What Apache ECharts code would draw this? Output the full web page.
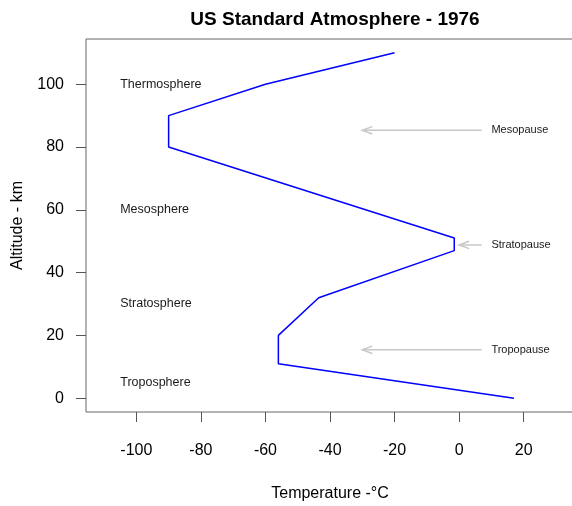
<!DOCTYPE html>
<html>
<head>
<meta charset="utf-8">
<script src="https://cdn.jsdelivr.net/npm/echarts@6/dist/echarts.min.js"></script>
<style>html,body{margin:0;padding:0;background:#fff}#c{width:572px;height:506px}</style>
</head>
<body>
<div id="c"></div>
<script>
// Data
var altitudeKm   = [0, 11, 20, 32, 47, 51, 80, 90, 100, 110];
var temperatureC = [17, -56, -56, -43.5, -1.5, -1.5, -90, -90, -60, -20];

var xTicks = [-100, -80, -60, -40, -20, 0, 20];
var yTicks = [0, 20, 40, 60, 80, 100];

var layerNames = ['Thermosphere', 'Mesosphere', 'Stratosphere', 'Troposphere'];
var layerX     = [-105, -105, -105, -105];
var layerY     = [100, 60, 30, 5];

var pauseNames  = ['Mesopause', 'Stratopause', 'Tropopause'];
var arrowTipX   = [-30, 0, -30];
var arrowTailX  = [7, 7, 7];
var pauseY      = [85.3, 48.8, 15.4];
var pauseLabelX = [10, 10, 10];

var lineData = altitudeKm.map(function (a, i) { return [temperatureC[i], a]; });
var layerData = layerNames.map(function (n, i) { return [layerX[i], layerY[i], n]; });
var arrowData = pauseNames.map(function (n, i) { return [arrowTipX[i], arrowTailX[i], pauseY[i]]; });
var pauseData = pauseNames.map(function (n, i) { return [pauseLabelX[i], pauseY[i], n]; });

var font = 'Liberation Sans, Arial, sans-serif';
var chart = echarts.init(document.getElementById('c'), null, {renderer: 'canvas'});

function textItem(size) {
  return function (params, api) {
    var p = api.coord([api.value(0), api.value(1)]);
    return {
      type: 'text',
      x: p[0], y: p[1],
      style: {
        text: api.value(2),
        fill: '#1a1a1a',
        font: size + 'px ' + font,
        align: 'left',
        verticalAlign: 'middle'
      }
    };
  };
}

chart.setOption({
  animation: false,
  backgroundColor: '#fff',
  title: {
    text: 'US Standard Atmosphere - 1976',
    left: 330, top: 5, textAlign: 'center',
    textStyle: {fontFamily: font, fontSize: 19, fontWeight: 'bold', color: '#000'}
  },
  grid: {
    left: 86, top: 39, width: 488, height: 373,
    show: true, borderColor: '#666', borderWidth: 1, backgroundColor: 'transparent',
    containLabel: false, outerBoundsMode: 'none'
  },
  xAxis: {
    type: 'value', min: -115.6, max: 35.6, position: 'bottom',
    name: 'Temperature -°C', nameLocation: 'middle', nameGap: 74,
    nameTextStyle: {fontFamily: font, fontSize: 16, color: '#000'},
    axisLine: {show: false, onZero: false},
    axisTick: {show: true, inside: false, length: 10, customValues: xTicks, lineStyle: {color: '#555', width: 1}},
    axisLabel: {customValues: xTicks, margin: 31, fontFamily: font, fontSize: 16, color: '#000'},
    splitLine: {show: false}
  },
  yAxis: {
    type: 'value', min: -4.4, max: 114.4, position: 'left',
    name: 'Altitude - km', nameLocation: 'middle', nameGap: 60, nameRotate: 90,
    nameTextStyle: {fontFamily: font, fontSize: 16, color: '#000'},
    axisLine: {show: false, onZero: false},
    axisTick: {show: true, inside: false, length: 10, customValues: yTicks, lineStyle: {color: '#555', width: 1}},
    axisLabel: {customValues: yTicks, margin: 22, fontFamily: font, fontSize: 16, color: '#000'},
    splitLine: {show: false}
  },
  series: [
    {
      type: 'line', data: lineData, symbol: 'none', clip: false,
      lineStyle: {color: '#0000ff', width: 1.5}
    },
    {
      type: 'custom', data: arrowData, clip: false,
      encode: {x: [0, 1], y: 2},
      renderItem: function (params, api) {
        var tip = api.coord([api.value(0), api.value(2)]);
        var tail = api.coord([api.value(1), api.value(2)]);
        var st = {stroke: '#c8c8c8', lineWidth: 1.5, fill: null};
        return {
          type: 'group',
          children: [
            {type: 'line', shape: {x1: tail[0], y1: tail[1], x2: tip[0], y2: tip[1]}, style: st},
            {type: 'polyline', shape: {points: [[tip[0] + 10, tip[1] - 3.7], [tip[0], tip[1]], [tip[0] + 10, tip[1] + 3.7]]}, style: st}
          ]
        };
      }
    },
    {
      type: 'custom', data: layerData, clip: false,
      encode: {x: 0, y: 1},
      renderItem: textItem(12.5)
    },
    {
      type: 'custom', data: pauseData, clip: false,
      encode: {x: 0, y: 1},
      renderItem: textItem(11)
    }
  ]
});
</script>
</body>
</html>
